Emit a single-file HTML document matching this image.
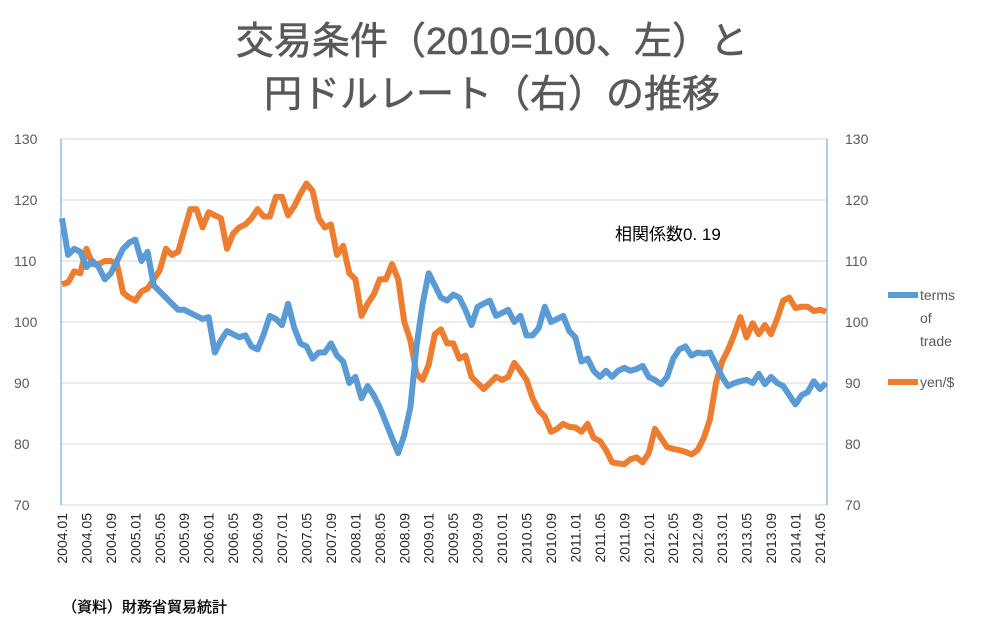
<!DOCTYPE html>
<html><head><meta charset="utf-8">
<style>
html,body{margin:0;padding:0;background:#fff;}
body{width:984px;height:629px;overflow:hidden;font-family:"Liberation Sans","Noto Sans CJK JP",sans-serif;}
</style></head>
<body>
<svg id="chart" width="984" height="629" xmlns="http://www.w3.org/2000/svg" font-family="Liberation Sans, Noto Sans CJK JP, sans-serif">
<text x="492" y="54" text-anchor="middle" font-size="38" fill="#595959" stroke="#595959" stroke-width="0.6">交易条件（2010=100、左）と</text>
<text x="492" y="107" text-anchor="middle" font-size="38" fill="#595959" stroke="#595959" stroke-width="0.6">円ドルレート（右）の推移</text>
<g id="grid"></g>
<g id="axes"></g>
<g id="series"></g>
<text x="615" y="240" font-size="17" fill="#000">相関係数0. 19</text>
<g>
<line x1="888" y1="295" x2="918" y2="295" stroke="#5b9bd5" stroke-width="6"/>
<text font-size="14" fill="#595959"><tspan x="920" y="300">terms</tspan><tspan x="920" y="323">of</tspan><tspan x="920" y="346">trade</tspan></text>
<line x1="888" y1="382" x2="918" y2="382" stroke="#ed7d31" stroke-width="6"/>
<text x="920" y="387" font-size="14" fill="#595959">yen/$</text>
</g>
<text x="62" y="612" font-size="15" fill="#000" stroke="#000" stroke-width="0.3">（資料）財務省貿易統計</text>
</svg>
<script>
const yTicks=[70,80,90,100,110,120,130];
const xLabels=["2004.01","2004.05","2004.09","2005.01","2005.05","2005.09","2006.01","2006.05","2006.09","2007.01","2007.05","2007.09","2008.01","2008.05","2008.09","2009.01","2009.05","2009.09","2010.01","2010.05","2010.09","2011.01","2011.05","2011.09","2012.01","2012.05","2012.09","2013.01","2013.05","2013.09","2014.01","2014.05"];
const termsOfTrade=[117,111,112,111.5,109,110,109,107,108,110,112,113,
113.5,110,111.5,106,105,104,103,102,102,101.5,101,100.5,
100.8,95,97,98.5,98,97.5,97.8,96,95.5,98,101,100.5,
99.5,103,99,96.5,96,94,95,95,96.5,94.5,93.5,90,
91,87.5,89.5,88,86,83.5,81,78.5,81.5,86,96,103,
108,106,104,103.5,104.5,104,102,99.5,102.5,103,103.5,101,
101.5,102,100,101,97.8,97.8,99,102.5,100,100.5,101,98.5,
97.5,93.5,94,92,91,92,91,92,92.5,92,92.3,
92.8,91,90.5,89.8,91,94,95.5,96,94.5,95,94.8,95,93,
91,89.5,90,90.3,90.5,90,91.5,89.8,91,90,89.5,88,86.5,88,88.5,90.3,89,90];
const yenDollar=[106.2,106.5,108.3,108,112,109.5,109.5,110,110,109.5,104.8,104,
103.5,105,105.5,107,108.5,112,111,111.5,115,118.5,118.5,115.5,
118,117.5,117,112,114.5,115.5,116,117,118.5,117.3,117.3,120.5,
120.5,117.5,119,121,122.7,121.5,117,115.5,116,111,112.5,108,
107,101,103,104.5,107,107,109.5,107,100,97,91.5,90.5,
93,98,98.8,96.5,96.5,94,94.5,91,90,89,90,91,
90.5,91,93.3,92,90.5,87.5,85.5,84.5,82,82.5,83.3,82.8,
82.7,82,83.3,81,80.5,79,77,76.8,76.7,77.5,77.8,77,
78.5,82.5,81,79.5,79.2,79,78.7,78.3,79,81,84,90,
93.5,95.5,98,100.8,97.5,99.8,98,99.5,98,100.5,103.5,104,
102.3,102.5,102.5,101.8,102,101.7];
const NS="http://www.w3.org/2000/svg";
const L=61,R=827,T=139,B=505;
function xs(i){return 62+i*(826-62)/125;}
function ys(v){return B-(v-70)*(B-T)/60;}
function mk(tag,attrs,parent){const e=document.createElementNS(NS,tag);for(const k in attrs)e.setAttribute(k,attrs[k]);parent.appendChild(e);return e;}
const grid=document.getElementById('grid'),axes=document.getElementById('axes'),series=document.getElementById('series');
yTicks.forEach(v=>{
 const g=mk('line',{x1:L,x2:R,y1:ys(v),y2:ys(v),stroke:'#d9d9d9','stroke-width':1},grid);
 
 
 const tl=mk('text',{x:14,y:ys(v)+5,'font-size':14,fill:'#595959'},axes);tl.textContent=v;
 
 
 const tr=mk('text',{x:845,y:ys(v)+5,'font-size':14,fill:'#595959'},axes);tr.textContent=v;
 
 
});
const la=mk('line',{x1:L,x2:L,y1:T,y2:B,stroke:'#5b9bd5','stroke-width':1},axes);


const ra=mk('line',{x1:R,x2:R,y1:T,y2:B,stroke:'#5b9bd5','stroke-width':1},axes);


xLabels.forEach((s,k)=>{
 const x=xs(k*4)+5;
 const t=mk('text',{x:0,y:0,'font-size':14,fill:'#262626','text-anchor':'end',transform:`translate(${x},${B+8}) rotate(-90)`},axes);
 t.textContent=s;
 
 
});
function line(arr,color,name){
 const d=arr.map((v,i)=>(i?'L':'M')+xs(i).toFixed(1)+','+ys(v).toFixed(1)).join('');
 const p=mk('path',{d:d,fill:'none',stroke:color,'stroke-width':6,'stroke-linejoin':'round'},series);
 
 
}
line(yenDollar,'#ed7d31','yen-dollar-line');
line(termsOfTrade,'#5b9bd5','terms-of-trade-line');
</script>
</body></html>
